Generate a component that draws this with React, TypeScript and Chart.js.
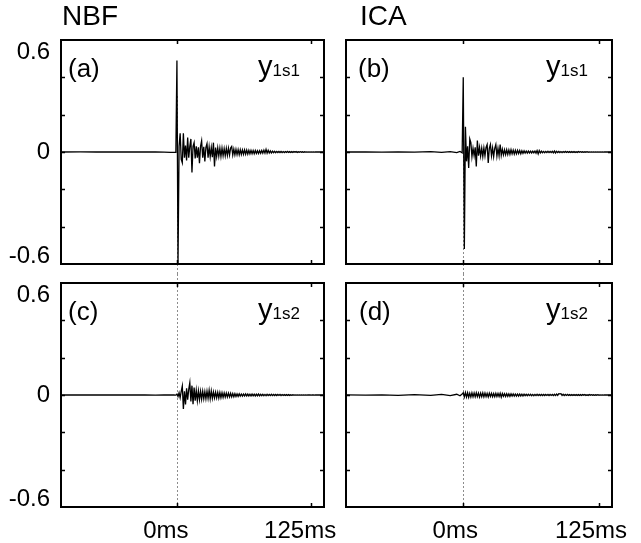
import React, { useEffect, useRef } from 'react';
import { Chart, registerables } from 'chart.js';

Chart.register(...registerables);

const FONT = "'Liberation Sans', Arial, Helvetica, sans-serif";

// ---------- data ----------
const TIME_MS = [
  -108, -90, -75, -60, -45, -30, -20, -12, -6, -3, -1,
  0, 1, 2, 3, 4, 5, 6, 7, 8, 9,
  10, 11, 12, 13, 14, 15, 16, 17, 18, 19,
  20, 21, 22, 23, 24, 25, 26, 27, 28, 29,
  30, 31, 32, 33, 34, 35, 36, 37, 38, 39,
  40, 41, 42, 43, 44, 45, 46, 47, 48, 49,
  50, 51, 52, 53, 54, 55, 56, 57, 58, 59,
  60, 61, 62, 63, 64, 65, 66, 67, 68, 69,
  70, 71, 72, 73, 74, 75, 76, 77, 78, 79,
  80, 81, 82, 83, 84, 85, 86, 87, 88, 89,
  90, 91, 92, 93, 94, 95, 96, 97, 98, 99,
  100, 101, 102, 103, 104, 105, 106, 107, 108, 109,
  110, 111, 112, 113, 114, 115, 116, 117, 118, 119,
  120, 121, 122, 123, 124, 125, 126, 127, 128, 129,
  130, 137,
];

const NBF_Y1S1 = [
  0, 0.001, 0, 0.001, 0, 0.001, 0, -0.001, -0.002, -0.002, -0.002,
  0.49, -0.6, 0.03, 0.1, -0.04, -0.058, 0.1, -0.03, 0.035, -0.045,
  0.077, -0.03, 0.03, 0.07, -0.11, 0.03, 0.05, -0.035, 0.03, -0.03,
  0.025, -0.06, 0.03, 0.06, -0.03, 0.028, -0.05, 0.025, 0.045, -0.03,
  0.027, -0.025, 0.024, -0.028, 0.05, -0.077, 0.024, -0.024, 0.022, -0.022,
  0.02, -0.024, 0.021, -0.02, 0.018, -0.02, 0.019, -0.018, 0.02, -0.016,
  0.022, 0.03, -0.016, 0.016, -0.015, 0.014, -0.014, 0.013, -0.014, 0.012,
  -0.013, 0.011, -0.012, 0.011, -0.012, 0.01, -0.011, 0.009, -0.01, 0.009,
  -0.009, 0.008, -0.009, 0.008, -0.008, 0.007, -0.008, 0.007, -0.007, 0.008,
  -0.006, 0.01, -0.006, 0.014, -0.006, 0.009, -0.005, 0.006, -0.005, 0.004,
  -0.004, 0.004, -0.004, 0.003, -0.003, 0.003, -0.003, 0.003, -0.003, 0.002,
  -0.003, 0.002, -0.002, 0.003, -0.002, 0.002, -0.002, 0.002, -0.002, 0.002,
  -0.001, 0.002, -0.002, 0.001, -0.001, 0.002, -0.001, 0.001, -0.002, 0.001,
  -0.001, 0.001, -0.001, 0.001, -0.001, 0.001, -0.001, 0.001, -0.001, 0.001,
  0, 0,
];

const ICA_Y1S1 = [
  0, 0.001, -0.001, 0.001, -0.001, 0.002, -0.002, 0.002, -0.003, 0.003, -0.004,
  0.4, -0.52, 0.135, -0.05, 0.03, -0.086, 0.07, 0.05, -0.025, 0.02,
  -0.02, 0.025, -0.077, 0.062, -0.02, 0.025, -0.022, 0.02, -0.025, 0.022,
  -0.02, 0.025, 0.04, -0.059, 0.02, 0.04, -0.02, 0.022, -0.025, 0.02,
  0.04, -0.022, 0.02, -0.02, 0.04, -0.018, 0.015, -0.015, 0.012, -0.014,
  0.012, -0.013, 0.011, -0.012, 0.012, -0.01, 0.01, -0.011, 0.009, -0.01,
  0.009, -0.008, 0.008, -0.009, 0.007, -0.007, 0.006, -0.006, 0.005, -0.006,
  0.005, -0.005, 0.004, -0.005, 0.004, -0.004, 0.005, -0.006, 0.008, -0.01,
  0.008, -0.005, 0.004, -0.004, 0.003, -0.004, 0.003, -0.003, 0.004, -0.003,
  0.003, -0.003, 0.004, -0.004, 0.005, -0.005, 0.004, -0.003, 0.003, -0.003,
  0.002, -0.003, 0.002, -0.002, 0.003, -0.002, 0.002, -0.002, 0.002, -0.002,
  0.002, -0.002, 0.002, -0.002, 0.001, -0.002, 0.002, -0.001, 0.002, -0.001,
  0.001, -0.002, 0.001, -0.001, 0.002, -0.001, 0.001, -0.001, 0.001, -0.001,
  0.001, -0.001, 0.001, -0.001, 0.001, -0.001, 0.001, -0.001, 0.001, -0.001,
  0, 0,
];

const NBF_Y1S2 = [
  0, 0, 0.001, 0, 0.001, 0, -0.001, 0, 0.001, 0, -0.001,
  0.005, -0.008, 0.012, -0.015, 0.02, 0.048, -0.075, 0.02, -0.05, 0.036,
  -0.025, 0.03, 0.066, -0.035, 0.05, -0.05, 0.04, -0.03, 0.025, -0.03,
  0.022, -0.025, 0.02, -0.022, 0.02, -0.02, 0.018, -0.02, 0.02, -0.018,
  0.025, -0.02, 0.022, -0.018, 0.016, -0.016, 0.015, -0.015, 0.014, -0.016,
  0.013, -0.014, 0.012, -0.013, 0.011, -0.012, 0.01, -0.011, 0.01, -0.01,
  0.009, -0.01, 0.008, -0.009, 0.007, -0.008, 0.006, -0.007, 0.006, -0.006,
  0.005, -0.006, 0.005, -0.005, 0.006, -0.005, 0.005, -0.005, 0.004, -0.005,
  0.005, -0.004, 0.004, -0.005, 0.004, -0.004, 0.005, -0.004, 0.004, -0.004,
  0.004, -0.004, 0.003, -0.004, 0.004, -0.003, 0.003, -0.003, 0.004, -0.003,
  0.003, -0.003, 0.003, -0.003, 0.003, -0.002, 0.003, -0.003, 0.002, -0.002,
  0.002, -0.002, 0.002, -0.002, 0.002, -0.002, 0.001, -0.002, 0.001, -0.001,
  0.001, -0.001, 0.001, -0.001, 0.001, -0.001, 0.001, -0.001, 0.001, -0.001,
  0.001, -0.001, 0.001, 0, 0.001, -0.001, 0, 0.001, -0.001, 0,
  0, 0,
];

const ICA_Y1S2 = [
  0.001, -0.001, 0.001, -0.002, 0.002, -0.002, 0.003, -0.003, 0.004, -0.004, 0.005,
  0.012, -0.01, 0.013, -0.011, 0.012, -0.012, 0.01, -0.011, 0.012, -0.01,
  0.011, -0.01, 0.012, -0.009, 0.01, -0.011, 0.01, -0.009, 0.011, -0.01,
  0.01, -0.009, 0.009, -0.01, 0.01, -0.008, 0.009, -0.009, 0.008, -0.009,
  0.009, -0.008, 0.008, -0.008, 0.009, -0.012, 0.008, -0.007, 0.007, -0.008,
  0.007, -0.007, 0.006, -0.007, 0.006, -0.006, 0.006, -0.006, 0.005, -0.006,
  0.005, -0.006, 0.005, -0.005, 0.004, -0.005, 0.004, -0.004, 0.004, -0.004,
  0.004, -0.003, 0.004, -0.004, 0.003, -0.004, 0.003, -0.003, 0.004, -0.003,
  0.003, -0.003, 0.003, -0.003, 0.003, -0.003, 0.003, -0.002, 0.003, -0.003,
  0.003, -0.002, 0.003, -0.003, 0.004, -0.003, 0.005, -0.002, 0.007, 0.006,
  0.007, -0.002, 0.004, -0.003, 0.003, -0.002, 0.003, -0.002, 0.002, -0.002,
  0.002, -0.002, 0.002, -0.002, 0.002, -0.002, 0.002, -0.002, 0.002, -0.002,
  0.002, -0.001, 0.002, -0.002, 0.001, -0.002, 0.002, -0.001, 0.002, -0.001,
  0.001, -0.002, 0.001, -0.001, 0.002, -0.001, 0.001, -0.001, 0.001, -0.001,
  0.001, 0,
];

const Y_LABEL_TICKS = [-0.6, 0, 0.6];
const Y_MINOR_TICKS = [-0.4, -0.2, 0, 0.2, 0.4];
const X_TICKS = [0, 125];
const X_RANGE = [-108, 137];
const Y_RANGE = [-0.6, 0.6];
const COLUMN_TITLES = ['NBF', 'ICA'];
const PANEL_LETTERS = ['(a)', '(b)', '(c)', '(d)'];
const SIGNAL_NAMES = [
  ['y', '1s1'],
  ['y', '1s1'],
  ['y', '1s2'],
  ['y', '1s2'],
];
const SERIES = [NBF_Y1S1, ICA_Y1S1, NBF_Y1S2, ICA_Y1S2];

// ---------- layout (positions / styles only) ----------
type Spec = {
  idx: number;
  x: number;
  y: number;
  w: number;
  h: number;
  pad: { top: number; right: number; bottom: number; left: number };
  showY: boolean;
  showX: boolean;
  isTop: boolean;
  title: string | null;
  titleDx: number;
  letterDx: number;
  labelOffset: number;
};

const SPECS: Spec[] = [
  { idx: 0, x: 0, y: 0, w: 335, h: 274, pad: { top: 40, right: 11, bottom: 10, left: 0 }, showY: true, showX: false, isTop: true, title: COLUMN_TITLES[0], titleDx: 1, letterDx: 7, labelOffset: 0 },
  { idx: 1, x: 335, y: 0, w: 306, h: 274, pad: { top: 40, right: 29, bottom: 10, left: 11 }, showY: false, showX: false, isTop: true, title: COLUMN_TITLES[1], titleDx: 14, letterDx: 12, labelOffset: 0 },
  { idx: 2, x: 0, y: 274, w: 350, h: 269, pad: { top: 9, right: 26, bottom: 0, left: 0 }, showY: true, showX: true, isTop: false, title: null, titleDx: 0, letterDx: 7, labelOffset: -11 },
  { idx: 3, x: 335, y: 274, w: 306, h: 269, pad: { top: 9, right: 29, bottom: 0, left: 11 }, showY: false, showX: true, isTop: false, title: null, titleDx: 0, letterDx: 13, labelOffset: -8 },
];

function zeroPadding(s: any) {
  s.paddingTop = 0;
  s.paddingBottom = 0;
  s.paddingLeft = 0;
  s.paddingRight = 0;
}

function Panel({ spec }: { spec: Spec }) {
  const ref = useRef<HTMLCanvasElement>(null);

  useEffect(() => {
    const canvas = ref.current;
    if (!canvas) return;
    const values = SERIES[spec.idx];
    const points = TIME_MS.map((t, i) => ({ x: t, y: values[i] }));

    const decor = {
      id: 'decor' + spec.idx,
      beforeDatasetsDraw(chart: any) {
        const { ctx, chartArea, scales } = chart;
        const x0 = Math.round(scales.x.getPixelForValue(0)) + 0.5;
        const yStart = spec.isTop ? scales.y.getPixelForValue(0.3) : 0;
        const yEnd = spec.isTop ? chart.height : chartArea.bottom;
        ctx.save();
        ctx.strokeStyle = '#8c8c8c';
        ctx.lineWidth = 1;
        ctx.setLineDash([2, 2]);
        ctx.beginPath();
        ctx.moveTo(x0, yStart);
        ctx.lineTo(x0, yEnd);
        ctx.stroke();
        ctx.restore();
      },
      afterDraw(chart: any) {
        const { ctx, chartArea, scales } = chart;
        const { left, right, top, bottom } = chartArea;
        ctx.save();
        ctx.setLineDash([]);
        ctx.strokeStyle = '#000';
        ctx.lineWidth = 2;
        ctx.strokeRect(left, top, right - left, bottom - top);
        ctx.lineWidth = 1.5;
        ctx.beginPath();
        for (const v of Y_MINOR_TICKS) {
          const py = Math.round(scales.y.getPixelForValue(v)) + 0.5;
          ctx.moveTo(left, py);
          ctx.lineTo(left + 4, py);
          ctx.moveTo(right - 4, py);
          ctx.lineTo(right, py);
        }
        for (const v of X_TICKS) {
          const px = Math.round(scales.x.getPixelForValue(v)) + 0.5;
          ctx.moveTo(px, top);
          ctx.lineTo(px, top + 4);
          ctx.moveTo(px, bottom - 4);
          ctx.lineTo(px, bottom);
        }
        ctx.stroke();

        ctx.fillStyle = '#000';
        ctx.textBaseline = 'alphabetic';
        if (spec.title) {
          ctx.font = `28px ${FONT}`;
          ctx.textAlign = 'left';
          ctx.fillText(spec.title, left + spec.titleDx, 25);
        }
        ctx.font = `26px ${FONT}`;
        ctx.textAlign = 'left';
        ctx.fillText(PANEL_LETTERS[spec.idx], left + spec.letterDx, top + 37);

        const [main, sub] = SIGNAL_NAMES[spec.idx];
        ctx.font = `17px ${FONT}`;
        const subW = ctx.measureText(sub).width;
        ctx.textAlign = 'right';
        const rx = right - 24;
        ctx.fillText(sub, rx, top + 36);
        ctx.font = `29px ${FONT}`;
        ctx.fillText(main, rx - subW, top + 36);
        ctx.restore();
      },
    };

    const chart = new Chart(canvas, {
      type: 'line',
      data: {
        datasets: [
          {
            data: points,
            borderColor: '#000',
            borderWidth: 1.3,
            pointRadius: 0,
            tension: 0,
            fill: false,
          },
        ],
      },
      options: {
        animation: false,
        responsive: false,
        events: [],
        layout: { padding: spec.pad },
        plugins: { legend: { display: false }, tooltip: { enabled: false }, title: { display: false } },
        scales: {
          x: {
            type: 'linear',
            min: X_RANGE[0],
            max: X_RANGE[1],
            display: spec.showX,
            grid: { display: false, drawTicks: false },
            border: { display: false },
            afterBuildTicks: (s: any) => {
              s.ticks = X_TICKS.map((v) => ({ value: v }));
            },
            afterFit: (s: any) => {
              s.height = spec.showX ? 36 : 0;
              zeroPadding(s);
            },
            ticks: {
              autoSkip: false,
              maxRotation: 0,
              padding: 10,
              labelOffset: spec.labelOffset,
              color: '#000',
              font: { family: FONT, size: 24 },
              callback: (v: any) => `${v}ms`,
            },
          },
          y: {
            type: 'linear',
            min: Y_RANGE[0],
            max: Y_RANGE[1],
            display: spec.showY,
            grid: { display: false, drawTicks: false },
            border: { display: false },
            afterBuildTicks: (s: any) => {
              s.ticks = Y_LABEL_TICKS.map((v) => ({ value: v }));
            },
            afterFit: (s: any) => {
              s.width = spec.showY ? 61 : 0;
              zeroPadding(s);
            },
            ticks: {
              autoSkip: false,
              padding: 11,
              color: '#000',
              font: (ctx: any) => {
                const v = ctx.tick ? ctx.tick.value : 0;
                return { family: FONT, size: 24, lineHeight: v < 0 ? 0.6 : 1.0 };
              },
              callback: (v: any) => {
                if (v === 0) return '0';
                const s = Number(v).toFixed(1);
                return v > 0 ? ['', s] : [s, ''];
              },
            },
          },
        },
      },
      plugins: [decor],
    } as any);

    return () => chart.destroy();
  }, [spec]);

  return (
    <canvas
      ref={ref}
      width={spec.w}
      height={spec.h}
      style={{ position: 'absolute', left: spec.x, top: spec.y, width: spec.w, height: spec.h }}
    />
  );
}

export default function App() {
  return (
    <div style={{ position: 'absolute', left: 0, top: 0, width: 641, height: 543, background: '#fff' }}>
      {SPECS.map((s) => (
        <Panel key={s.idx} spec={s} />
      ))}
    </div>
  );
}
